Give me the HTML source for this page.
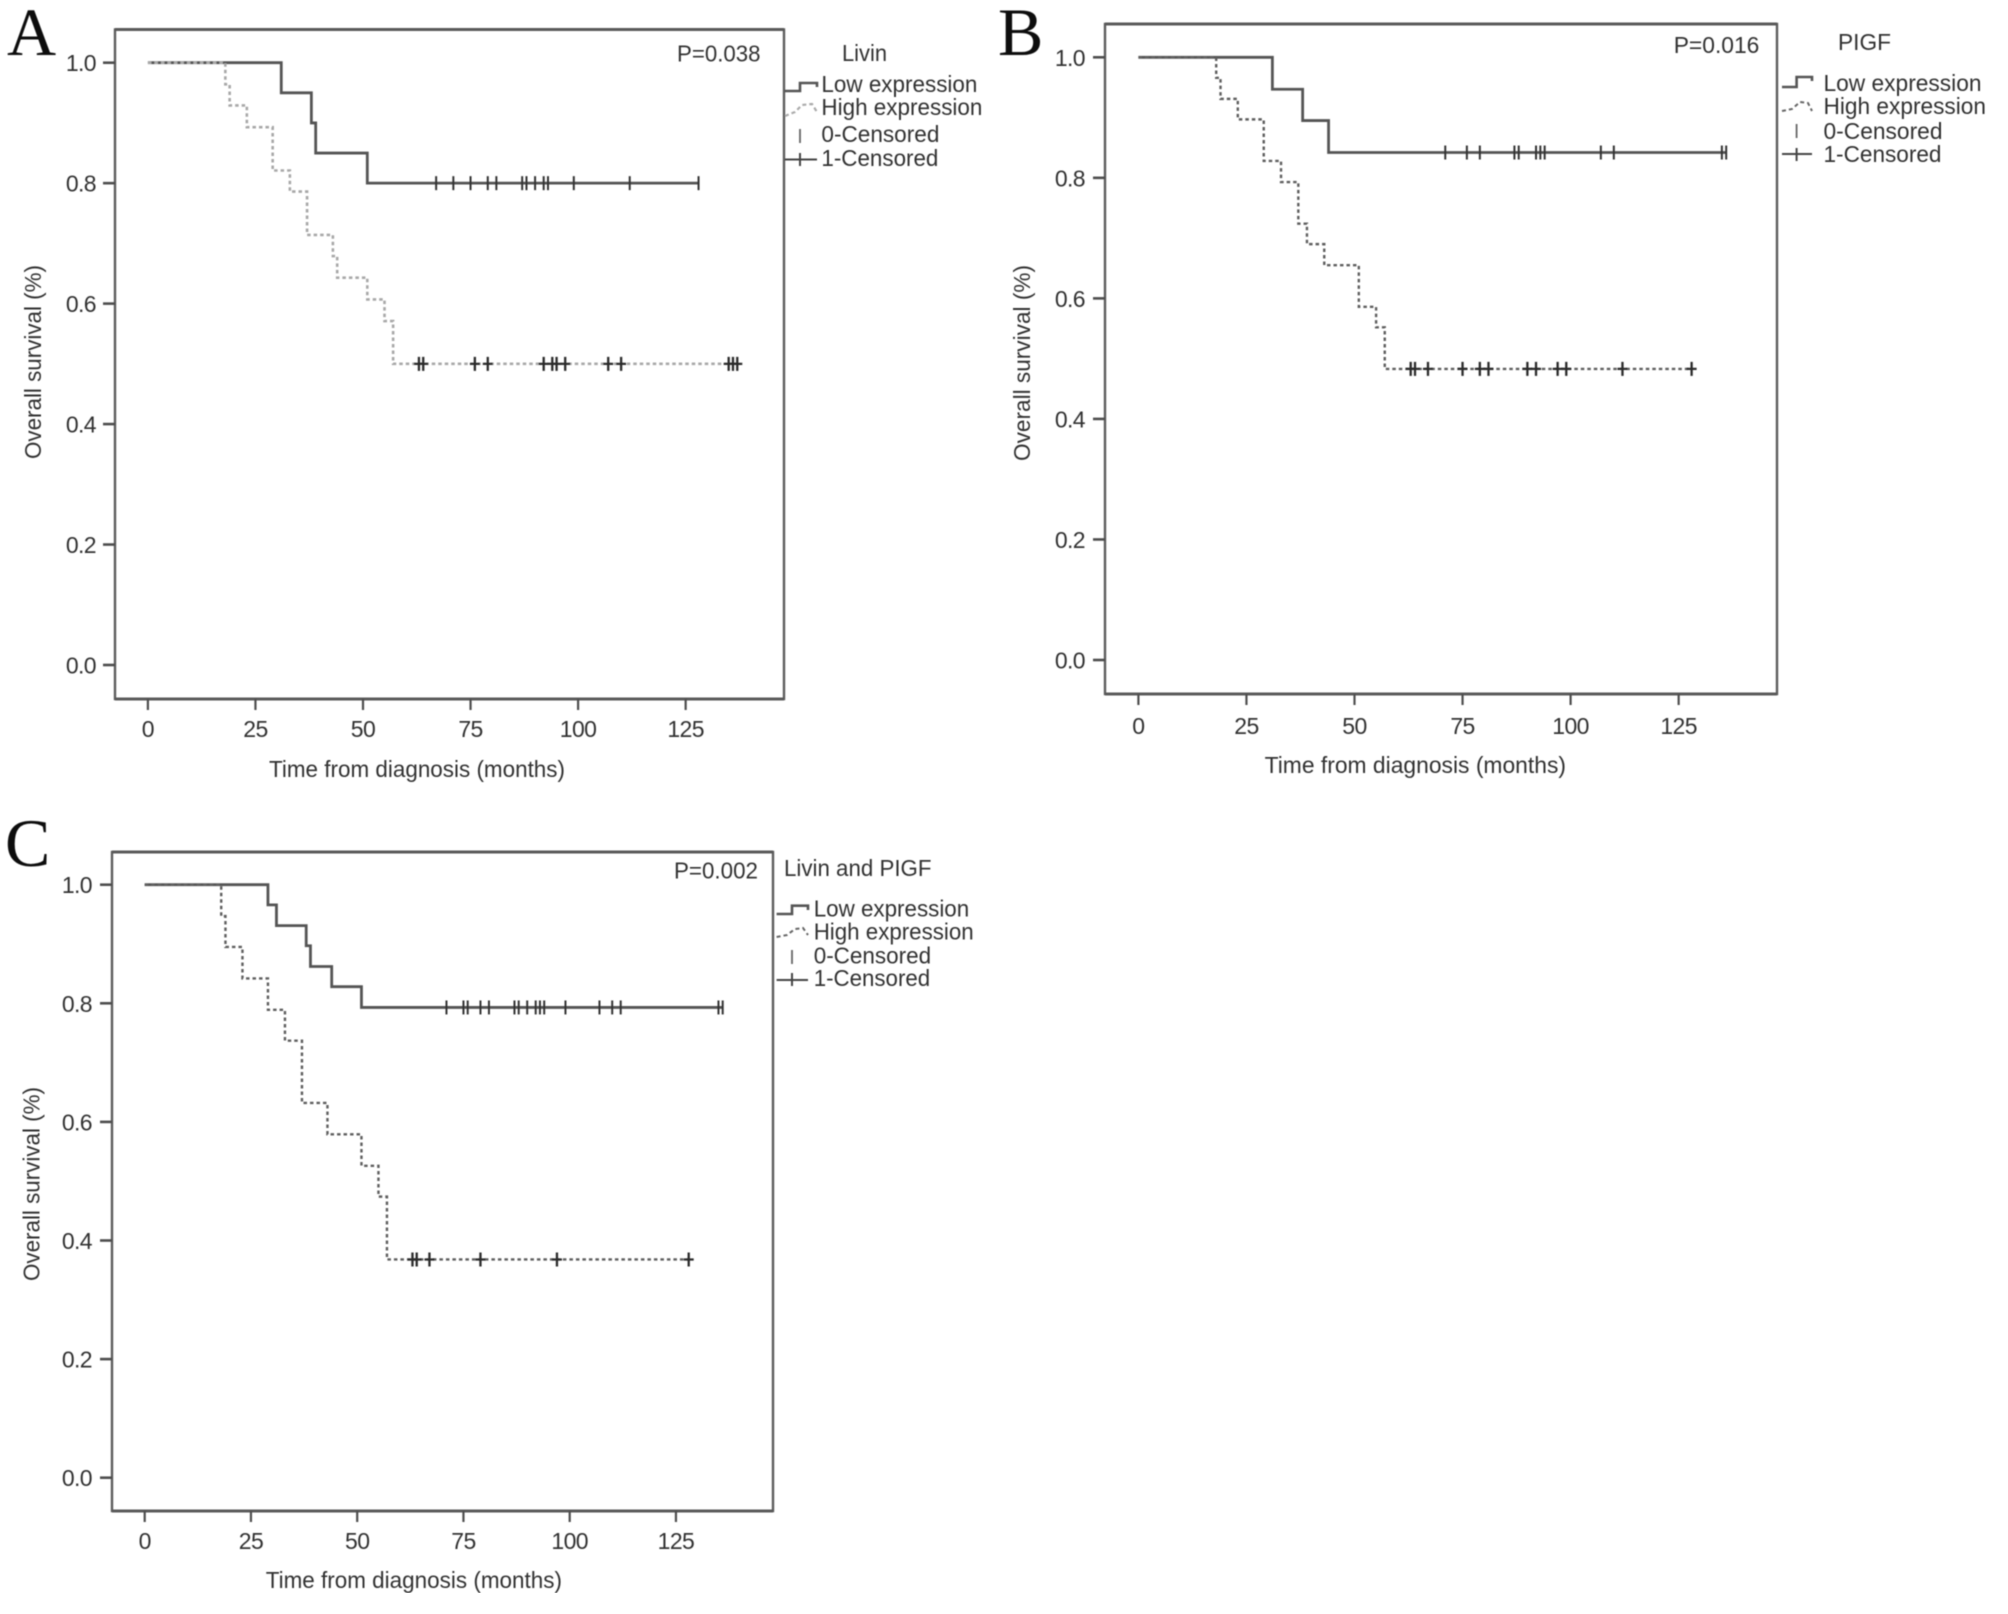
<!DOCTYPE html>
<html lang="en">
<head>
<meta charset="utf-8">
<title>Kaplan-Meier overall survival curves</title>
<style>
html,body{margin:0;padding:0;background:#fff;}
svg{display:block;}
text{font-family:"Liberation Sans",Arial,sans-serif;fill:#333;font-size:23px;}
.panel-letter{font-family:"Liberation Serif",serif;font-size:68px;fill:#111;}
.frame{fill:none;stroke:#5c5c5c;stroke-width:2.4;}
.frame-bold{fill:none;stroke:#5a5a5a;stroke-width:3;}
.tick-label{letter-spacing:-0.6px;}
</style>
</head>
<body>
<svg id="figure" xmlns="http://www.w3.org/2000/svg" width="2008" height="1614" viewBox="0 0 2008 1614">
<defs><filter id="soft" x="0" y="0" width="100%" height="100%" filterUnits="objectBoundingBox"><feGaussianBlur stdDeviation="0.6"/></filter></defs>
<rect x="0" y="0" width="2008" height="1614" fill="#fff"/>
<g id="root" filter="url(#soft)">

<g id="panel-a">
  <text class="panel-letter" x="7" y="55">A</text>
  <rect class="frame" x="115" y="29.5" width="669" height="669.5"/>
  <path class="frame-bold" d="M115 29.5H784M115 699H784"/>
  <text x="677" y="61.5" textLength="83.5" lengthAdjust="spacingAndGlyphs">P=0.038</text>
  <text x="842" y="61" textLength="45" lengthAdjust="spacingAndGlyphs">Livin</text>
  <text x="821.4" y="92" textLength="156" lengthAdjust="spacingAndGlyphs">Low expression</text>
  <text x="821.4" y="115" textLength="161" lengthAdjust="spacingAndGlyphs">High expression</text>
  <text x="821.4" y="142" textLength="118" lengthAdjust="spacingAndGlyphs">0-Censored</text>
  <text x="821.4" y="166" textLength="117" lengthAdjust="spacingAndGlyphs">1-Censored</text>
  <path d="M785 91H800V83H817V87" fill="none" stroke="#555" stroke-width="2.6"/>
  <path d="M785 116L795 112L802 105L812 104L817 112" fill="none" stroke="#aaa" stroke-width="2.2" stroke-dasharray="4 3"/>
  <path d="M800 129V143" fill="none" stroke="#666" stroke-width="1.8"/>
  <path d="M785 159.5H817M800 153V166" fill="none" stroke="#444" stroke-width="2"/>
  <text transform="translate(41 459) rotate(-90)" textLength="194" lengthAdjust="spacingAndGlyphs">Overall survival (%)</text>
  <text x="269" y="777" textLength="296" lengthAdjust="spacingAndGlyphs">Time from diagnosis (months)</text>
</g>

<g id="panel-b">
  <text class="panel-letter" x="998" y="55">B</text>
  <rect class="frame" x="1105" y="24" width="672" height="670"/>
  <path class="frame-bold" d="M1105 24H1777M1105 694H1777"/>
  <text x="1673.7" y="53" textLength="85.7" lengthAdjust="spacingAndGlyphs">P=0.016</text>
  <text x="1838" y="50" textLength="53" lengthAdjust="spacingAndGlyphs">PIGF</text>
  <text x="1823.5" y="91" textLength="158" lengthAdjust="spacingAndGlyphs">Low expression</text>
  <text x="1823.5" y="114" textLength="162.5" lengthAdjust="spacingAndGlyphs">High expression</text>
  <text x="1823.5" y="139" textLength="119" lengthAdjust="spacingAndGlyphs">0-Censored</text>
  <text x="1823.5" y="162" textLength="118" lengthAdjust="spacingAndGlyphs">1-Censored</text>
  <path d="M1782 87H1796.6V77H1812V81" fill="none" stroke="#555" stroke-width="2.6"/>
  <path d="M1782 111L1792 109L1800 102L1808 103L1812 111" fill="none" stroke="#666" stroke-width="2" stroke-dasharray="4 3"/>
  <path d="M1796.6 124V138" fill="none" stroke="#666" stroke-width="1.8"/>
  <path d="M1782 154H1812M1796.6 148V161" fill="none" stroke="#444" stroke-width="2"/>
  <text transform="translate(1030 461) rotate(-90)" textLength="196" lengthAdjust="spacingAndGlyphs">Overall survival (%)</text>
  <text x="1264.6" y="773" textLength="301.4" lengthAdjust="spacingAndGlyphs">Time from diagnosis (months)</text>
</g>

<g id="panel-c">
  <text class="panel-letter" x="5" y="866">C</text>
  <rect class="frame" x="112" y="852" width="661" height="659"/>
  <path class="frame-bold" d="M112 852H773M112 1511H773"/>
  <text x="674" y="878.5" textLength="84" lengthAdjust="spacingAndGlyphs">P=0.002</text>
  <text x="784" y="876" textLength="147.5" lengthAdjust="spacingAndGlyphs">Livin and PIGF</text>
  <text x="813.7" y="916.5" textLength="155.5" lengthAdjust="spacingAndGlyphs">Low expression</text>
  <text x="813.7" y="939.5" textLength="160" lengthAdjust="spacingAndGlyphs">High expression</text>
  <text x="813.7" y="963.5" textLength="117.5" lengthAdjust="spacingAndGlyphs">0-Censored</text>
  <text x="813.7" y="986" textLength="116.5" lengthAdjust="spacingAndGlyphs">1-Censored</text>
  <path d="M776.6 914H792V905.7H808V910" fill="none" stroke="#555" stroke-width="2.6"/>
  <path d="M776.6 937L787 935L795 929L803 928L808 935" fill="none" stroke="#666" stroke-width="2" stroke-dasharray="4 3"/>
  <path d="M792 950V964" fill="none" stroke="#666" stroke-width="1.8"/>
  <path d="M776.6 980H808M792 973V986" fill="none" stroke="#444" stroke-width="2"/>
  <text transform="translate(39.5 1281) rotate(-90)" textLength="194" lengthAdjust="spacingAndGlyphs">Overall survival (%)</text>
  <text x="265.7" y="1588" textLength="296.3" lengthAdjust="spacingAndGlyphs">Time from diagnosis (months)</text>
</g>
</g>
</svg>

<script>
// Axis tick values
const xTickValues = [0, 25, 50, 75, 100, 125];
const yTickValues = [0.0, 0.2, 0.4, 0.6, 0.8, 1.0];

// Panel A: Livin
const lowTimesA = [31, 38, 39, 51];
const lowSurvivalA = [0.95, 0.90, 0.85, 0.80];
const lowCensorA = [67, 71, 75, 79, 81, 87, 88, 90, 92, 93, 99, 112, 128];
const highTimesA = [18, 19, 23, 29, 33, 37, 43, 44, 51, 55, 57];
const highSurvivalA = [0.964, 0.929, 0.893, 0.821, 0.786, 0.714, 0.679, 0.643, 0.607, 0.571, 0.5];
const highCensorA = [63, 64, 76, 79, 92, 94, 95, 97, 107, 110, 135, 136, 137];

// Panel B: PIGF
const lowTimesB = [31, 38, 44];
const lowSurvivalB = [0.947, 0.895, 0.842];
const lowCensorB = [71, 76, 79, 87, 88, 92, 93, 94, 107, 110, 135, 136];
const highTimesB = [18, 19, 23, 29, 33, 37, 39, 43, 51, 55, 57];
const highSurvivalB = [0.966, 0.931, 0.897, 0.828, 0.793, 0.724, 0.690, 0.655, 0.586, 0.552, 0.483];
const highCensorB = [63, 64, 67, 75, 79, 81, 90, 92, 97, 99, 112, 128];

// Panel C: Livin and PIGF
const lowTimesC = [29, 31, 38, 39, 44, 51];
const lowSurvivalC = [0.966, 0.931, 0.897, 0.862, 0.828, 0.793];
const lowCensorC = [71, 75, 76, 79, 81, 87, 88, 90, 92, 93, 94, 99, 107, 110, 112, 135, 136];
const highTimesC = [18, 19, 23, 29, 33, 37, 43, 51, 55, 57];
const highSurvivalC = [0.947, 0.895, 0.842, 0.789, 0.737, 0.632, 0.579, 0.526, 0.474, 0.368];
const highCensorC = [63, 64, 67, 79, 97, 128];

const SVG_NS = 'http://www.w3.org/2000/svg';

function makeScaleX(origin, perMonth) {
  return function (t) { return origin + t * perMonth; };
}
function makeScaleY(top, perUnit) {
  return function (s) { return top + (1 - s) * perUnit; };
}
function survivalAt(times, survival, t) {
  let s = 1;
  for (let i = 0; i < times.length; i++) {
    if (times[i] <= t) s = survival[i];
  }
  return s;
}
function stepPath(times, survival, endTime, sx, sy) {
  let d = 'M' + sx(0) + ' ' + sy(1);
  for (let i = 0; i < times.length; i++) {
    d += 'H' + sx(times[i]) + 'V' + sy(survival[i]);
  }
  d += 'H' + sx(endTime);
  return d;
}
function drawPanel(groupId, sx, sy, frameLeft, frameBottom, xLabelBaseline, yLabelRight, low, high, highColor, highWidth) {
  const g = document.getElementById(groupId);

  yTickValues.forEach(function (v) {
    const tick = document.createElementNS(SVG_NS, 'line');
    
    
    tick.setAttribute('x1', frameLeft - 12);
    tick.setAttribute('x2', frameLeft);
    tick.setAttribute('y1', sy(v));
    tick.setAttribute('y2', sy(v));
    tick.setAttribute('stroke', '#4d4d4d');
    tick.setAttribute('stroke-width', '2.6');
    g.appendChild(tick);

    const label = document.createElementNS(SVG_NS, 'text');
    
    
    label.setAttribute('class', 'tick-label');
    label.setAttribute('x', yLabelRight);
    label.setAttribute('y', sy(v) + 8.5);
    label.setAttribute('text-anchor', 'end');
    label.textContent = v.toFixed(1);
    g.appendChild(label);
  });

  xTickValues.forEach(function (v) {
    const tick = document.createElementNS(SVG_NS, 'line');
    
    
    tick.setAttribute('x1', sx(v));
    tick.setAttribute('x2', sx(v));
    tick.setAttribute('y1', frameBottom);
    tick.setAttribute('y2', frameBottom + 11);
    tick.setAttribute('stroke', '#4d4d4d');
    tick.setAttribute('stroke-width', '2.2');
    g.appendChild(tick);

    const label = document.createElementNS(SVG_NS, 'text');
    
    
    label.setAttribute('class', 'tick-label');
    label.setAttribute('x', sx(v));
    label.setAttribute('y', xLabelBaseline);
    label.setAttribute('text-anchor', 'middle');
    label.textContent = String(v);
    g.appendChild(label);
  });

  const lowEnd = low.censor[low.censor.length - 1];
  const lowLine = document.createElementNS(SVG_NS, 'path');
  
  
  lowLine.setAttribute('d', stepPath(low.times, low.survival, lowEnd, sx, sy));
  lowLine.setAttribute('fill', 'none');
  lowLine.setAttribute('stroke', '#555');
  lowLine.setAttribute('stroke-width', '2.8');
  g.appendChild(lowLine);

  const highEnd = high.censor[high.censor.length - 1];
  const highLine = document.createElementNS(SVG_NS, 'path');
  
  
  highLine.setAttribute('d', stepPath(high.times, high.survival, highEnd, sx, sy));
  highLine.setAttribute('fill', 'none');
  highLine.setAttribute('stroke', highColor);
  highLine.setAttribute('stroke-width', highWidth);
  highLine.setAttribute('stroke-dasharray', '3.5 3');
  g.appendChild(highLine);

  low.censor.forEach(function (t) {
    const s = survivalAt(low.times, low.survival, t);
    const mark = document.createElementNS(SVG_NS, 'path');
    
    
    mark.setAttribute('d', 'M' + sx(t) + ' ' + (sy(s) - 7) + 'V' + (sy(s) + 7));
    mark.setAttribute('fill', 'none');
    mark.setAttribute('stroke', '#333');
    mark.setAttribute('stroke-width', '2');
    g.appendChild(mark);
  });

  high.censor.forEach(function (t) {
    const s = survivalAt(high.times, high.survival, t);
    const mark = document.createElementNS(SVG_NS, 'path');
    
    
    mark.setAttribute('d', 'M' + sx(t) + ' ' + (sy(s) - 7) + 'V' + (sy(s) + 7) + 'M' + (sx(t) - 5) + ' ' + sy(s) + 'H' + (sx(t) + 5));
    mark.setAttribute('fill', 'none');
    mark.setAttribute('stroke', '#2a2a2a');
    mark.setAttribute('stroke-width', '2.3');
    g.appendChild(mark);
  });
}

drawPanel('panel-a', makeScaleX(147.9, 4.302), makeScaleY(62.7, 602.3), 115, 699, 737, 96,
  { times: lowTimesA, survival: lowSurvivalA, censor: lowCensorA },
  { times: highTimesA, survival: highSurvivalA, censor: highCensorA }, '#a8a8a8', '2.6');

drawPanel('panel-b', makeScaleX(1138.4, 4.322), makeScaleY(57.3, 602.7), 1105, 694, 734, 1085,
  { times: lowTimesB, survival: lowSurvivalB, censor: lowCensorB },
  { times: highTimesB, survival: highSurvivalB, censor: highCensorB }, '#5f5f5f', '2.4');

drawPanel('panel-c', makeScaleX(144.7, 4.25), makeScaleY(884.7, 593), 112, 1511, 1549, 92,
  { times: lowTimesC, survival: lowSurvivalC, censor: lowCensorC },
  { times: highTimesC, survival: highSurvivalC, censor: highCensorC }, '#5f5f5f', '2.4');
</script>
</body>
</html>
